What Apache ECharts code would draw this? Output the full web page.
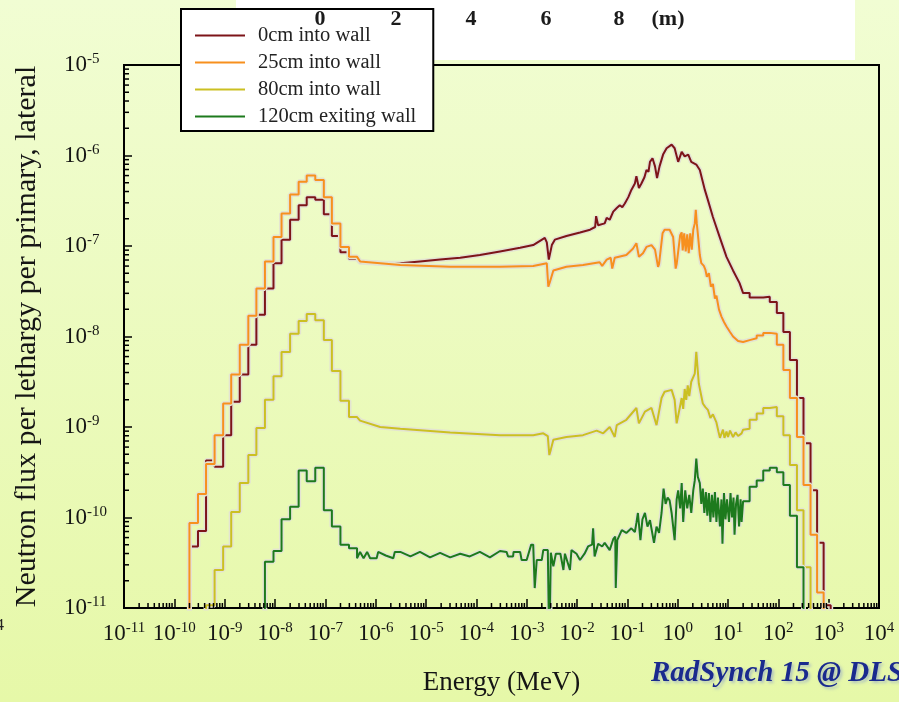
<!DOCTYPE html>
<html>
<head>
<meta charset="utf-8">
<script src="https://cdn.jsdelivr.net/npm/echarts@6/dist/echarts.min.js"></script>
<style>
  html, body { margin: 0; padding: 0; overflow: hidden; }
  #chart { width: 899px; height: 702px; }
</style>
</head>
<body>
<div id="chart"></div>
<script>
// All coordinates are log10 values: x = log10(E / MeV), y = log10(flux per lethargy per primary)

// Low-energy histogram bin edges (thermal / epithermal region)
const lowEdges = [-9.70, -9.53, -9.37, -9.20, -9.03, -8.87, -8.70, -8.53, -8.37, -8.20, -8.03,
                  -7.87, -7.70, -7.53, -7.37, -7.20, -7.03, -6.87, -6.70, -6.53, -6.37];
// High-energy histogram bin edges
const highEdges = [1.30, 1.43, 1.57, 1.70, 1.83, 1.97, 2.10, 2.23, 2.37, 2.50, 2.64, 2.77, 2.90, 3.04];

// Series names
const seriesNames = ['0cm into wall', '25cm into wall', '80cm into wall', '120cm exiting wall'];

// ---- 0 cm into wall ----
const low0cm = [-10.32, -10.15, -9.37, -9.44, -9.09, -8.72, -8.42, -8.09, -7.76, -7.47, -7.19,
                -6.93, -6.71, -6.55, -6.46, -6.49, -6.65, -6.89, -7.07, -7.14];
const mid0cm = [
  [-6.31, -7.18], [-5.91, -7.19], [-5.51, -7.19], [-5.12, -7.17], [-4.72, -7.15], [-4.32, -7.13],
  [-3.93, -7.10], [-3.53, -7.06], [-3.13, -7.02], [-2.87, -6.99], [-2.64, -6.91], [-2.60, -6.96],
  [-2.56, -7.15], [-2.53, -7.14], [-2.50, -6.99], [-2.44, -6.93], [-2.21, -6.89], [-1.94, -6.85],
  [-1.74, -6.82], [-1.64, -6.79], [-1.62, -6.67], [-1.58, -6.77], [-1.45, -6.75], [-1.41, -6.69],
  [-1.35, -6.71], [-1.28, -6.62], [-1.21, -6.58], [-1.15, -6.55], [-1.10, -6.57], [-1.05, -6.53],
  [-0.98, -6.46], [-0.95, -6.48], [-0.92, -6.38], [-0.85, -6.31], [-0.82, -6.23], [-0.77, -6.36],
  [-0.72, -6.31], [-0.66, -6.24], [-0.62, -6.16], [-0.58, -6.18], [-0.55, -6.07], [-0.50, -6.03],
  [-0.45, -6.12], [-0.41, -6.25], [-0.36, -6.12], [-0.29, -5.99], [-0.22, -5.92], [-0.12, -5.88],
  [-0.06, -5.92], [0.01, -6.07], [0.08, -5.96], [0.14, -6.01], [0.21, -5.99], [0.27, -6.07],
  [0.37, -6.10], [0.44, -6.16], [0.54, -6.38], [0.60, -6.49], [0.70, -6.68], [0.84, -6.91],
  [0.97, -7.12], [1.10, -7.27], [1.23, -7.41], [1.30, -7.52]
];
const high0cm = [-7.52, -7.57, -7.57, -7.56, -7.62, -7.74, -7.95, -8.26, -8.68, -9.18, -9.70, -10.28, -10.97];

// ---- 25 cm into wall ----
const low25cm = [-10.06, -9.74, -9.41, -9.09, -8.74, -8.42, -8.09, -7.77, -7.47, -7.17, -6.90,
                 -6.64, -6.43, -6.29, -6.22, -6.27, -6.46, -6.75, -7.01, -7.12];
const mid25cm = [
  [-6.31, -7.17], [-5.91, -7.19], [-5.51, -7.21], [-4.52, -7.23], [-3.53, -7.23], [-2.87, -7.22],
  [-2.60, -7.19], [-2.57, -7.45], [-2.54, -7.40], [-2.47, -7.27], [-2.21, -7.23], [-1.88, -7.21],
  [-1.55, -7.18], [-1.50, -7.22], [-1.48, -7.21], [-1.41, -7.15], [-1.33, -7.13], [-1.30, -7.25],
  [-1.25, -7.13], [-1.02, -7.10], [-0.89, -7.03], [-0.82, -6.97], [-0.77, -7.12], [-0.69, -7.08],
  [-0.62, -7.01], [-0.52, -6.99], [-0.45, -7.04], [-0.39, -7.23], [-0.37, -7.20], [-0.30, -6.86],
  [-0.26, -6.82], [-0.16, -6.82], [-0.09, -6.90], [-0.04, -7.25], [-0.02, -7.20], [0.05, -6.88],
  [0.08, -6.85], [0.10, -7.05], [0.13, -6.86], [0.16, -7.06], [0.19, -6.87], [0.22, -7.08],
  [0.25, -6.86], [0.28, -7.04], [0.31, -6.82], [0.34, -6.75], [0.36, -6.60], [0.38, -6.75],
  [0.40, -6.86], [0.44, -7.10], [0.47, -7.19], [0.52, -7.22], [0.55, -7.26], [0.58, -7.34],
  [0.62, -7.30], [0.66, -7.45], [0.70, -7.42], [0.74, -7.58], [0.77, -7.55], [0.82, -7.70],
  [0.87, -7.78], [0.92, -7.84], [0.97, -7.89], [1.04, -7.95], [1.10, -8.00], [1.20, -8.05],
  [1.30, -8.06]
];
const high25cm = [-8.04, -8.02, -7.99, -7.96, -7.97, -8.09, -8.37, -8.68, -9.11, -9.64, -10.19, -10.83];

// ---- 80 cm into wall ----
const low80cm = [null, null, -10.97, -10.58, -10.32, -9.94, -9.62, -9.31, -9.01, -8.70, -8.44,
                 -8.17, -7.97, -7.83, -7.75, -7.82, -8.04, -8.38, -8.71, -8.89];
const mid80cm = [
  [-6.31, -8.93], [-5.91, -9.00], [-5.51, -9.02], [-4.52, -9.06], [-3.53, -9.09], [-2.87, -9.09],
  [-2.67, -9.07], [-2.58, -9.10], [-2.55, -9.31], [-2.52, -9.25], [-2.47, -9.14], [-2.21, -9.11],
  [-1.88, -9.09], [-1.61, -9.04], [-1.48, -9.07], [-1.35, -9.00], [-1.25, -9.11], [-1.21, -8.98],
  [-1.02, -8.92], [-0.82, -8.79], [-0.77, -8.96], [-0.65, -8.83], [-0.52, -8.79], [-0.42, -8.98],
  [-0.32, -8.68], [-0.26, -8.61], [-0.12, -8.59], [-0.06, -8.70], [-0.02, -8.96], [0.08, -8.68],
  [0.11, -8.80], [0.14, -8.58], [0.17, -8.70], [0.20, -8.54], [0.23, -8.66], [0.27, -8.50],
  [0.34, -8.41], [0.37, -8.17], [0.42, -8.52], [0.50, -8.74], [0.55, -8.78], [0.60, -8.81],
  [0.65, -8.90], [0.70, -8.86], [0.77, -8.95], [0.81, -9.05], [0.84, -9.12], [0.87, -9.14],
  [0.90, -9.03], [0.93, -9.12], [0.97, -9.05], [1.00, -9.11], [1.04, -9.04], [1.10, -9.11],
  [1.15, -9.06], [1.20, -9.10], [1.27, -9.07], [1.30, -9.03]
];
const high80cm = [-9.02, -8.92, -8.85, -8.79, -8.78, -8.88, -9.09, -9.42, -9.92, -10.55];

// ---- 120 cm exiting wall ----
const low120cm = [null, null, null, null, null, null, null, null, null, -10.49, -10.37,
                  -10.02, -9.88, -9.48, -9.60, -9.45, -9.92, -10.10, -10.30, -10.34];
const mid120cm = [
  [-6.37, -10.45], [-6.31, -10.38], [-6.24, -10.45], [-6.17, -10.38], [-6.11, -10.45], [-5.98, -10.45],
  [-5.95, -10.38], [-5.80, -10.42], [-5.65, -10.45], [-5.62, -10.38], [-5.51, -10.38], [-5.31, -10.43],
  [-5.12, -10.38], [-4.92, -10.44], [-4.72, -10.39], [-4.52, -10.44], [-4.32, -10.40], [-4.13, -10.43],
  [-3.93, -10.38], [-3.73, -10.44], [-3.53, -10.37], [-3.40, -10.38], [-3.37, -10.43], [-3.27, -10.43],
  [-3.26, -10.38], [-3.13, -10.38], [-3.10, -10.47], [-3.00, -10.47], [-2.91, -10.30], [-2.87, -10.30],
  [-2.84, -10.78], [-2.80, -10.47], [-2.70, -10.47], [-2.67, -10.36], [-2.58, -10.36], [-2.55, -11.50],
  [-2.52, -10.39], [-2.47, -10.54], [-2.42, -10.40], [-2.33, -10.40], [-2.27, -10.58], [-2.24, -10.40],
  [-2.14, -10.58], [-2.11, -10.36], [-2.01, -10.40], [-1.94, -10.47], [-1.85, -10.40], [-1.78, -10.32],
  [-1.70, -10.30], [-1.68, -10.12], [-1.65, -10.43], [-1.58, -10.29], [-1.50, -10.32], [-1.45, -10.28],
  [-1.35, -10.36], [-1.28, -10.24], [-1.24, -10.21], [-1.23, -10.78], [-1.20, -10.25], [-1.11, -10.14],
  [-1.02, -10.17], [-0.92, -10.12], [-0.85, -10.16], [-0.82, -10.06], [-0.79, -9.95], [-0.74, -10.25],
  [-0.70, -10.02], [-0.65, -9.95], [-0.60, -10.10], [-0.55, -10.03], [-0.47, -10.28], [-0.42, -10.10],
  [-0.37, -10.17], [-0.32, -9.95], [-0.28, -9.68], [-0.24, -9.85], [-0.20, -9.78], [-0.16, -9.81],
  [-0.12, -9.95], [-0.06, -10.25], [-0.02, -9.80], [0.01, -9.70], [0.05, -9.90], [0.08, -9.62],
  [0.11, -10.05], [0.15, -9.70], [0.19, -9.90], [0.23, -9.75], [0.27, -9.95], [0.31, -9.70],
  [0.34, -9.59], [0.37, -9.35], [0.40, -9.55], [0.44, -9.62], [0.47, -9.85], [0.50, -9.68],
  [0.53, -9.95], [0.56, -9.72], [0.59, -9.98], [0.62, -9.73], [0.65, -10.05], [0.68, -9.75],
  [0.71, -10.00], [0.74, -9.72], [0.77, -10.05], [0.80, -9.78], [0.84, -10.10], [0.87, -9.80],
  [0.89, -10.29], [0.92, -9.73], [0.95, -10.02], [0.98, -9.80], [1.02, -10.05], [1.05, -9.73],
  [1.08, -10.00], [1.11, -9.78], [1.13, -10.19], [1.16, -9.85], [1.19, -9.75], [1.22, -10.10],
  [1.25, -9.80], [1.27, -10.05], [1.30, -9.82]
];
const high120cm = [-9.82, -9.66, -9.59, -9.48, -9.45, -9.50, -9.64, -9.98, -10.55];

// Axis decades (exponents of the tick labels)
const xDecades = [-11, -10, -9, -8, -7, -6, -5, -4, -3, -2, -1, 0, 1, 2, 3, 4];
const yDecades = [-11, -10, -9, -8, -7, -6, -5];

const lineColors = ['#7d1419', '#f7901e', '#cbc022', '#1d7a1d'];
const FLOOR = -12; // below the y-axis minimum; the grid clips it

function stepPoints(edges, values) {
  const pts = [];
  values.forEach((v, i) => {
    if (v === null) return;
    pts.push([edges[i], v], [edges[i + 1], v]);
  });
  return pts;
}

function buildTrace(lowVals, mid, highVals) {
  const first = lowVals.findIndex(v => v !== null);
  const pts = [[lowEdges[first], FLOOR]];
  pts.push(...stepPoints(lowEdges, lowVals));
  pts.push(...mid);
  pts.push(...stepPoints(highEdges, highVals));
  pts.push([highEdges[highVals.length], FLOOR]);
  return pts;
}

const traces = [
  buildTrace(low0cm, mid0cm, high0cm),
  buildTrace(low25cm, mid25cm, high25cm),
  buildTrace(low80cm, mid80cm, high80cm),
  buildTrace(low120cm, mid120cm, high120cm)
];

// Minor (log 2..9) tick positions inside each decade
const minorLogs = [2, 3, 4, 5, 6, 7, 8, 9].map(m => Math.log10(m));
const xMinor = [];
xDecades.slice(0, -1).forEach(d => minorLogs.forEach(l => xMinor.push([d + l, -11])));
const yMinor = [];
yDecades.slice(0, -1).forEach(d => minorLogs.forEach(l => yMinor.push([-11, d + l])));

const serif = 'Liberation Serif';
const labelRich = {
  b: { fontFamily: serif, fontSize: 23, lineHeight: 26, color: '#151515' },
  s: { fontFamily: serif, fontSize: 15, lineHeight: 15, verticalAlign: 'top', color: '#151515' }
};
const powerLabel = v => '{b|10}{s|' + v + '}';

const series = [];
traces.forEach((pts, i) => {
  series.push({
    name: 'outline ' + i,
    type: 'line',
    data: pts,
    showSymbol: false,
    symbol: 'none',
    silent: true,
    color: '#e3e4d2',
    lineStyle: { width: 5, color: '#e3e4d2' },
    z: 2
  });
  series.push({
    name: seriesNames[i],
    type: 'line',
    data: pts,
    showSymbol: false,
    symbol: 'none',
    color: lineColors[i],
    lineStyle: { width: 2, color: lineColors[i] },
    z: 2
  });
});

series.push({
  type: 'custom',
  name: 'x minor ticks',
  data: xMinor,
  silent: true,
  clip: false,
  z: 6,
  renderItem: (params, api) => {
    const p = api.coord([api.value(0), -11]);
    return { type: 'line', shape: { x1: p[0], y1: p[1], x2: p[0], y2: p[1] - 5 },
             style: { stroke: '#000', lineWidth: 1.5 } };
  }
});
series.push({
  type: 'custom',
  name: 'y minor ticks',
  data: yMinor,
  silent: true,
  clip: false,
  z: 6,
  renderItem: (params, api) => {
    const p = api.coord([-11, api.value(1)]);
    return { type: 'line', shape: { x1: p[0], y1: p[1], x2: p[0] + 5, y2: p[1] },
             style: { stroke: '#000', lineWidth: 1.5 } };
  }
});

const topText = (t, x) => ({
  type: 'text', x: x, y: 19, z: 30,
  style: { text: t, font: 'bold 22px "Liberation Serif"', fill: '#1b1b1b', textAlign: 'center', textVerticalAlign: 'middle' }
});

const chart = echarts.init(document.getElementById('chart'), null, { renderer: 'canvas' });
chart.setOption({
  animation: false,
  backgroundColor: {
    type: 'linear', x: 0, y: 0, x2: 0, y2: 1,
    colorStops: [{ offset: 0, color: '#f1fdd3' }, { offset: 1, color: '#e6f8a8' }]
  },
  grid: {
    left: 124, right: 20, top: 65, bottom: 94,
    show: true, borderColor: '#000', borderWidth: 2, backgroundColor: 'transparent'
  },
  xAxis: {
    type: 'value', min: -11, max: 4, interval: 1,
    name: 'Energy (MeV)', nameLocation: 'middle', nameGap: 61,
    nameTextStyle: { fontFamily: serif, fontSize: 27, color: '#151515' },
    axisLine: { onZero: false, lineStyle: { color: '#000', width: 2 } },
    axisTick: { inside: true, length: 9, lineStyle: { color: '#000', width: 1.5 } },
    axisLabel: { formatter: powerLabel, rich: labelRich, margin: 13 },
    splitLine: { show: false }
  },
  yAxis: {
    type: 'value', min: -11, max: -5, interval: 1,
    name: 'Neutron flux per lethargy per primary, lateral', nameLocation: 'middle', nameGap: 82,
    nameTextStyle: { fontFamily: serif, fontSize: 30, color: '#151515' },
    axisLine: { onZero: false, lineStyle: { color: '#000', width: 2 } },
    axisTick: { inside: true, length: 8, lineStyle: { color: '#000', width: 1.5 } },
    axisLabel: { formatter: powerLabel, rich: labelRich, margin: 60, align: 'left' },
    splitLine: { show: false }
  },
  legend: {
    data: seriesNames,
    orient: 'vertical',
    left: 181, top: 9,
    padding: [16, 17, 4, 14],
    itemWidth: 50, itemHeight: 2, itemGap: 6,
    icon: 'rect',
    backgroundColor: '#fff',
    borderColor: '#000', borderWidth: 2,
    selectedMode: false,
    textStyle: { fontFamily: serif, fontSize: 20.5, color: '#222', lineHeight: 21, padding: [0, 0, 0, 8] },
    z: 10
  },
  graphic: [
    { type: 'rect', shape: { x: 236, y: 0, width: 619, height: 60 }, style: { fill: '#ffffff' }, z: 1 },
    topText('0', 320), topText('2', 396), topText('4', 471), topText('6', 546), topText('8', 619), topText('(m)', 668),
    { type: 'text', x: 4, y: 626, z: 2, style: { text: '4', font: '17px "Liberation Serif"', fill: '#222', textAlign: 'right', textVerticalAlign: 'middle' } },
    { type: 'text', x: 651, y: 674, z: 2, style: {
        text: 'RadSynch 15 @ DLS', font: 'italic bold 29px "Liberation Serif"', fill: '#1a2a8e',
        textAlign: 'left', textVerticalAlign: 'middle',
        textShadowColor: 'rgba(130,150,210,0.55)', textShadowBlur: 3, textShadowOffsetX: 2, textShadowOffsetY: 2 } }
  ],
  series: series
});
</script>
</body>
</html>
